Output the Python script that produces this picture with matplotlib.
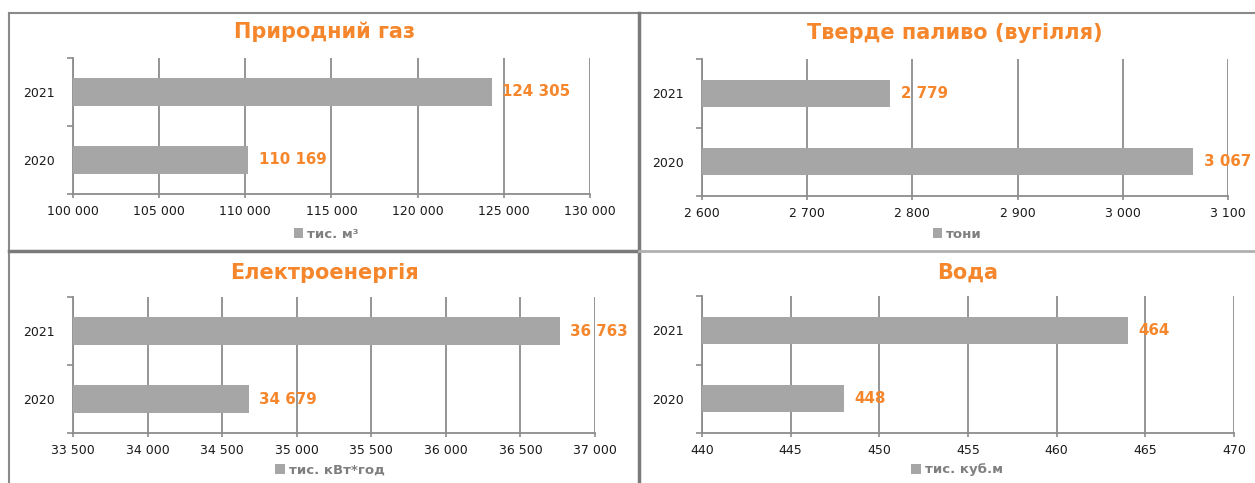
import matplotlib.pyplot as plt
from matplotlib.lines import Line2D

W, H = 1255, 483

years = ['2020', '2021']

titles = ['Природний газ', 'Тверде паливо (вугілля)', 'Електроенергія', 'Вода']
units = ['тис. м³', 'тони', 'тис. кВт*год', 'тис. куб.м']

gas = [110169, 124305]
coal = [3067, 2779]
power = [34679, 36763]
water = [448, 464]

x_ranges = [(100000, 130000, 5000), (2600, 3100, 100), (33500, 37000, 500), (440, 470, 5)]

ORANGE = '#F5862B'
BAR = '#A6A6A6'
GRID = '#8C8C8C'

plt.rcParams['font.family'] = ['DejaVu Sans']


def fmt(v):
    return f'{v:,}'.replace(',', ' ')


def px_axes(fig, left, top, right, bottom):
    return fig.add_axes([left / W, 1 - bottom / H, (right - left) / W, (bottom - top) / H])


fig = plt.figure(figsize=(W / 100, H / 100), dpi=100)

# axes boxes in pixels: left, top, right, bottom
boxes = [(73, 58, 590, 194), (702, 59, 1228, 196), (73, 297, 595, 433), (702, 296, 1234, 433)]
title_pos = [(325, 32), (955, 33), (325, 273), (968, 273)]
legend_pos = [(326, 234), (957, 234), (330, 470), (957, 470)]
data = [gas, coal, power, water]

for i in range(4):
    ax = px_axes(fig, *boxes[i])
    lo, hi, step = x_ranges[i]
    vals = data[i]
    bars = ax.barh([0, 1], [v - lo for v in vals], left=lo, height=0.4,
                   color=BAR, label=units[i], zorder=3)
    ax.set_xlim(lo, hi)
    ax.set_ylim(-0.5, 1.5)
    ticks = list(range(lo, hi + 1, step))
    ax.set_xticks(ticks)
    ax.set_xticklabels([fmt(t) for t in ticks], fontsize=9, color='#1a1a1a')
    ax.set_yticks([0, 1])
    ax.set_yticklabels(years, fontsize=9, color='#1a1a1a')
    ax.set_yticks([-0.5, 0.5, 1.5], minor=True)
    ax.tick_params(axis='y', which='major', length=0, pad=13)
    ax.tick_params(axis='y', which='minor', length=4, color=GRID, width=1.2)
    ax.tick_params(axis='x', length=3, color=GRID, width=1.2, pad=5)
    ax.grid(axis='x', color=GRID, linewidth=1.3, zorder=0)
    for s in ['top', 'right']:
        ax.spines[s].set_visible(False)
    for s in ['left', 'bottom']:
        ax.spines[s].set_color(GRID)
        ax.spines[s].set_linewidth(1.3)
    off = (hi - lo) * 0.02
    for b, v in zip(bars, vals):
        ax.text(v + off, b.get_y() + b.get_height() / 2, fmt(v), color=ORANGE,
                fontsize=10.8, fontweight='bold', va='center', ha='left', zorder=4)
    fig.text(title_pos[i][0] / W, 1 - title_pos[i][1] / H, titles[i], color=ORANGE,
             fontsize=15, fontweight='bold', ha='center', va='center')
    ax.legend(handles=[bars], labels=[units[i]], loc='center',
              bbox_to_anchor=(legend_pos[i][0] / W, 1 - legend_pos[i][1] / H),
              bbox_transform=fig.transFigure, frameon=False, handlelength=0.7,
              handleheight=0.7, handletextpad=0.3, borderpad=0,
              prop={'size': 9.5, 'weight': 'bold'}, labelcolor='#7f7f7f')

# panel borders
def hline(y, x0, x1, lw, c):
    fig.add_artist(Line2D([x0 / W, x1 / W], [1 - y / H, 1 - y / H], lw=lw, color=c))


def vline(x, y0, y1, lw, c):
    fig.add_artist(Line2D([x / W, x / W], [1 - y0 / H, 1 - y1 / H], lw=lw, color=c))


hline(13, 9, W, 1.5, '#8a8a8a')
vline(9, 13, H, 1.5, '#8a8a8a')
vline(639, 13, H, 2.5, '#7a7a7a')
hline(251, 9, 639, 2.5, '#7a7a7a')
hline(251, 639, W, 2, '#b0b0b0')

fig.savefig('out.png', dpi=100)
